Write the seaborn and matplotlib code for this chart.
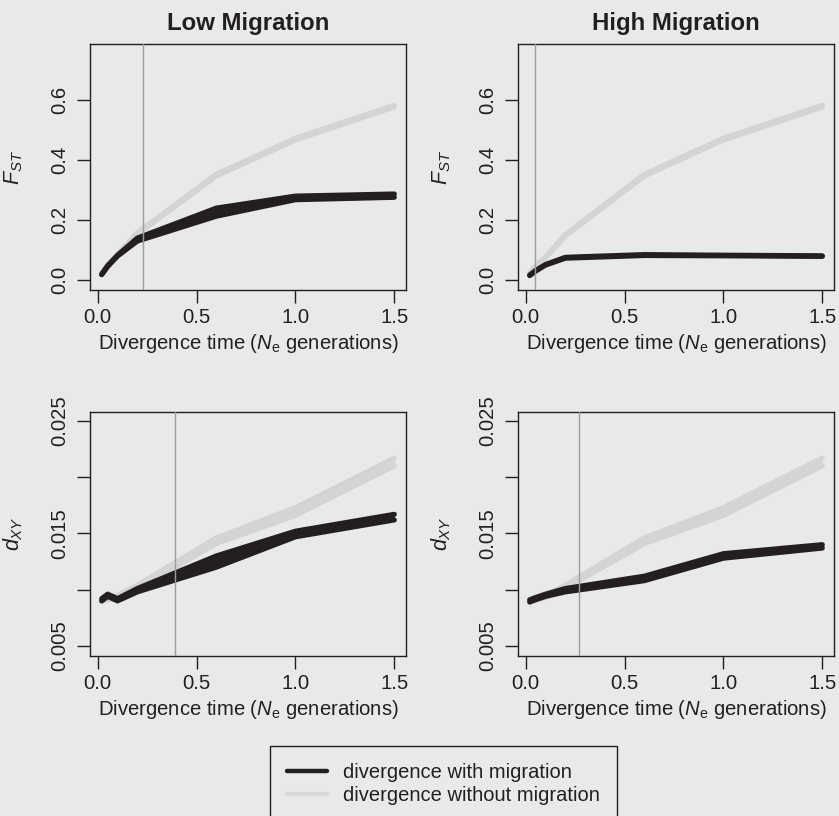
import numpy as np
import pandas as pd
import matplotlib
matplotlib.use("Agg")
import matplotlib.pyplot as plt
import seaborn as sns
from matplotlib.lines import Line2D

# ---------------- data ----------------
div_time = [0.02, 0.05, 0.1, 0.2, 0.6, 1.0, 1.5]

# FST, low migration
fst_low_mig_lo = [0.018, 0.045, 0.080, 0.130, 0.213, 0.268, 0.276]
fst_low_mig_hi = [0.020, 0.048, 0.083, 0.140, 0.240, 0.280, 0.287]
fst_low_nomig_lo = [0.020, 0.047, 0.082, 0.153, 0.347, 0.467, 0.577]
fst_low_nomig_hi = [0.024, 0.051, 0.086, 0.158, 0.353, 0.473, 0.583]

# FST, high migration
fst_high_mig_lo = [0.015, 0.030, 0.050, 0.073, 0.082, 0.081, 0.079]
fst_high_mig_hi = [0.017, 0.032, 0.052, 0.076, 0.085, 0.083, 0.081]
fst_high_nomig_lo = [0.020, 0.045, 0.073, 0.147, 0.347, 0.467, 0.577]
fst_high_nomig_hi = [0.024, 0.049, 0.077, 0.152, 0.353, 0.473, 0.583]

# dXY, low migration
dxy_low_mig_lo = [0.0090, 0.0094, 0.0090, 0.0098, 0.0120, 0.0147, 0.0162]
dxy_low_mig_hi = [0.0092, 0.0096, 0.0092, 0.0101, 0.0130, 0.0152, 0.0167]
dxy_low_nomig_lo = [0.0089, 0.0091, 0.0093, 0.0101, 0.0141, 0.0166, 0.0210]
dxy_low_nomig_hi = [0.0091, 0.0093, 0.0095, 0.0104, 0.0146, 0.0173, 0.0217]

# dXY, high migration
dxy_high_mig_lo = [0.0089, 0.0091, 0.0094, 0.0098, 0.0108, 0.0128, 0.0137]
dxy_high_mig_hi = [0.0091, 0.0093, 0.0096, 0.0101, 0.0112, 0.0132, 0.0140]
dxy_high_nomig_lo = [0.0089, 0.0091, 0.0093, 0.0101, 0.0141, 0.0166, 0.0210]
dxy_high_nomig_hi = [0.0091, 0.0093, 0.0095, 0.0104, 0.0146, 0.0173, 0.0217]

# vertical reference lines
vline_fst_low = 0.228
vline_fst_high = 0.045
vline_dxy_low = 0.39
vline_dxy_high = 0.27

panel_titles = ["Low Migration", "High Migration"]
series_names = ["divergence with migration", "divergence without migration"]
fst_ticks = [0.0, 0.2, 0.4, 0.6]
fst_ticklabels = ["0.0", "0.2", "0.4", "0.6"]
dxy_ticks = [0.005, 0.010, 0.015, 0.020, 0.025]
dxy_ticklabels = ["0.005", "", "0.015", "", "0.025"]
x_ticks = [0.0, 0.5, 1.0, 1.5]
x_ticklabels = ["0.0", "0.5", "1.0", "1.5"]

# ---------------- style ----------------
BG = "#e8e9eb"
INK = "#231f20"
GREY = "#d3d4d6"
VLINE = "#9c9c9c"

sns.set_style("ticks")
plt.rcParams["font.family"] = ["Liberation Sans", "DejaVu Sans"]
plt.rcParams["mathtext.fontset"] = "custom"
plt.rcParams["mathtext.rm"] = "Liberation Sans"
plt.rcParams["mathtext.it"] = "Liberation Sans:italic"
plt.rcParams["mathtext.bf"] = "Liberation Sans:bold"
plt.rcParams["text.color"] = INK
plt.rcParams["axes.labelcolor"] = INK
plt.rcParams["xtick.color"] = INK
plt.rcParams["ytick.color"] = INK

W, H = 839, 816
fig = plt.figure(figsize=(W / 100, H / 100), dpi=100, facecolor=BG)


def box(left, top, right, bottom):
    return [left / W, (H - bottom) / H, (right - left) / W, (bottom - top) / H]


panels = [
    dict(pos=box(90, 44, 406, 290), mig=(fst_low_mig_lo, fst_low_mig_hi),
         nomig=(fst_low_nomig_lo, fst_low_nomig_hi), v=vline_fst_low, kind="fst",
         title=panel_titles[0]),
    dict(pos=box(518, 44, 834, 290), mig=(fst_high_mig_lo, fst_high_mig_hi),
         nomig=(fst_high_nomig_lo, fst_high_nomig_hi), v=vline_fst_high, kind="fst",
         title=panel_titles[1]),
    dict(pos=box(90, 412, 406, 656), mig=(dxy_low_mig_lo, dxy_low_mig_hi),
         nomig=(dxy_low_nomig_lo, dxy_low_nomig_hi), v=vline_dxy_low, kind="dxy",
         title=None),
    dict(pos=box(518, 412, 834, 656), mig=(dxy_high_mig_lo, dxy_high_mig_hi),
         nomig=(dxy_high_nomig_lo, dxy_high_nomig_hi), v=vline_dxy_high, kind="dxy",
         title=None),
]

LW = 3.7
FS = 14.6
for p in panels:
    ax = fig.add_axes(p["pos"])
    ax.set_facecolor(BG)
    rows = []
    for name, (lo, hi) in [(series_names[1], p["nomig"]), (series_names[0], p["mig"])]:
        for rep, arr in (("lo", lo), ("hi", hi)):
            for xv, yv in zip(div_time, arr):
                rows.append(dict(x=xv, value=yv, series=name, rep=rep))
    df = pd.DataFrame(rows)
    sns.lineplot(data=df, x="x", y="value", hue="series", units="rep",
                 estimator=None, hue_order=[series_names[1], series_names[0]],
                 palette=[GREY, INK], linewidth=LW, solid_capstyle="round",
                 legend=False, ax=ax, zorder=3)
    ax.fill_between(div_time, p["nomig"][0], p["nomig"][1], color=GREY, lw=0, zorder=2.5)
    ax.fill_between(div_time, p["mig"][0], p["mig"][1], color=INK, lw=0, zorder=3.5)
    ax.axvline(p["v"], color=VLINE, lw=1.0, zorder=4)

    ax.set_xlim(-0.0392, 1.5592)
    ax.set_xticks(x_ticks)
    ax.set_xticklabels(x_ticklabels)
    if p["kind"] == "fst":
        ax.set_ylim(-0.033, 0.787)
        ax.set_yticks(fst_ticks)
        ax.set_yticklabels(fst_ticklabels)
        ax.set_ylabel(r"$F_{ST}$", fontsize=15.5)
    else:
        ax.set_ylim(0.0041, 0.0258)
        ax.set_yticks(dxy_ticks)
        ax.set_yticklabels(dxy_ticklabels)
        ax.set_ylabel(r"$d_{XY}$", fontsize=15.5)
    ax.yaxis.set_label_coords(-0.205, 0.5)
    ax.set_xlabel(r"Divergence time ($N_\mathrm{e}$ generations)", fontsize=FS, labelpad=3.5)
    for lab in ax.get_yticklabels():
        lab.set_rotation(90)
        lab.set_va("center")
    ax.tick_params(axis="both", direction="out", length=9.2, width=1.0,
                   labelsize=FS, colors=INK)
    ax.tick_params(axis="x", pad=4.0)
    ax.tick_params(axis="y", pad=5.5)
    for s in ax.spines.values():
        s.set_visible(True)
        s.set_color(INK)
        s.set_linewidth(1.0)
    if p["title"]:
        ax.set_title(p["title"], fontsize=17.3, fontweight="bold", pad=10, color=INK)

handles = [Line2D([0], [0], color=INK, lw=3.2), Line2D([0], [0], color="#d8d9db", lw=3.2)]
leg = fig.legend(handles, series_names, loc="upper left",
                 bbox_to_anchor=(270 / W, (H - 746) / H), fontsize=14.5,
                 frameon=True, fancybox=False, borderpad=0.83, labelspacing=0.2,
                 handlelength=2.0, handletextpad=0.8, borderaxespad=0)
fr = leg.get_frame()
fr.set_facecolor(BG)
fr.set_edgecolor(INK)
fr.set_linewidth(1.0)
fr.set_alpha(1)

fig.savefig("out.png", dpi=100, facecolor=BG)
